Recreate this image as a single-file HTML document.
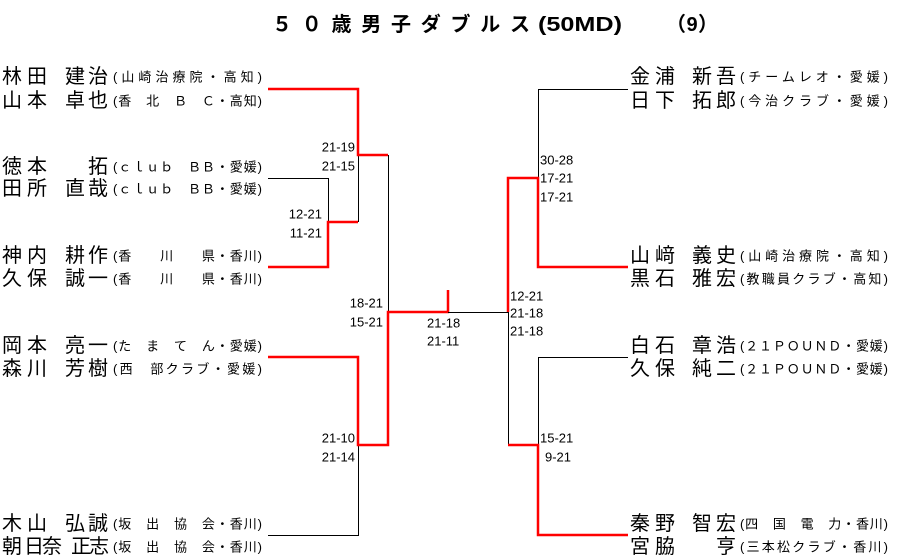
<!DOCTYPE html>
<html><head><meta charset="utf-8"><style>
html,body{margin:0;padding:0;background:#fff;}
svg{display:block;}
text{font-family:"Liberation Sans","Noto Sans CJK JP",sans-serif;fill:#000;}
.n{font-size:20px;}
.a{font-size:13px;}
.s{font-size:13px;}
.t{font-size:20px;font-weight:bold;}
.r{stroke:#f00;stroke-width:2.5;fill:none;}
.b{stroke:#000;stroke-width:1;fill:none;}
</style></head><body>
<svg width="897" height="558" viewBox="0 0 897 558" xmlns="http://www.w3.org/2000/svg">
<text class="t" x="272" y="31" textLength="258" lengthAdjust="spacing">５０歳男子ダブルス</text>
<text class="t" x="538" y="31" textLength="84" lengthAdjust="spacingAndGlyphs">(50MD)</text>
<text class="t" x="666" y="31" textLength="52" lengthAdjust="spacing">（9）</text>

<g class="n" dominant-baseline="central">
<text x="2 27 47 65 88" y="77">林田　建治</text>
<text x="2 27 47 65 88" y="101">山本　卓也</text>
<text x="2 27 47 65 88" y="167">徳本　　拓</text>
<text x="2 27 47 65 88" y="189">田所　直哉</text>
<text x="2 27 47 65 88" y="256">神内　耕作</text>
<text x="2 27 47 65 88" y="279">久保　誠一</text>
<text x="2 27 47 65 88" y="346">岡本　亮一</text>
<text x="2 27 47 65 88" y="369">森川　芳樹</text>
<text x="2 27 47 65 88" y="524">木山　弘誠</text>
<text x="2 24 42 71 89" y="547">朝日奈正志</text>
<text x="630 655 675 692 716" y="77">金浦　新吾</text>
<text x="630 655 675 692 716" y="101">日下　拓郎</text>
<text x="630 655 675 692 716" y="256">山﨑　義史</text>
<text x="630 655 675 692 716" y="279">黒石　雅宏</text>
<text x="630 655 675 692 716" y="346">白石　章浩</text>
<text x="630 655 675 692 716" y="369">久保　純二</text>
<text x="630 655 675 692 716" y="524">秦野　智宏</text>
<text x="630 655 675 692 716" y="547">宮脇　　亨</text>
</g>

<g class="a" dominant-baseline="central">
<text x="113" y="77" textLength="149" lengthAdjust="spacing">(山崎治療院・高知)</text>
<text x="113" y="101" textLength="149" lengthAdjust="spacing">(香　北　Ｂ　Ｃ・高知)</text>
<text x="113" y="167" textLength="149" lengthAdjust="spacing">(ｃｌｕｂ　ＢＢ・愛媛)</text>
<text x="113" y="189" textLength="149" lengthAdjust="spacing">(ｃｌｕｂ　ＢＢ・愛媛)</text>
<text x="113" y="256" textLength="149" lengthAdjust="spacing">(香　　川　　県・香川)</text>
<text x="113" y="279" textLength="149" lengthAdjust="spacing">(香　　川　　県・香川)</text>
<text x="113" y="346" textLength="149" lengthAdjust="spacing">(た　ま　て　ん・愛媛)</text>
<text x="113" y="369" textLength="149" lengthAdjust="spacing">(西　部クラブ・愛媛)</text>
<text x="113" y="524" textLength="149" lengthAdjust="spacing">(坂　出　協　会・香川)</text>
<text x="113" y="547" textLength="149" lengthAdjust="spacing">(坂　出　協　会・香川)</text>
<text x="740" y="77" textLength="148" lengthAdjust="spacing">(チームレオ・愛媛)</text>
<text x="740" y="101" textLength="148" lengthAdjust="spacing">(今治クラブ・愛媛)</text>
<text x="740" y="256" textLength="148" lengthAdjust="spacing">(山崎治療院・高知)</text>
<text x="740" y="279" textLength="148" lengthAdjust="spacing">(教職員クラブ・高知)</text>
<text x="740" y="346" textLength="148" lengthAdjust="spacing">(２１ＰＯＵＮＤ・愛媛)</text>
<text x="740" y="369" textLength="148" lengthAdjust="spacing">(２１ＰＯＵＮＤ・愛媛)</text>
<text x="740" y="524" textLength="148" lengthAdjust="spacing">(四　国　電　力・香川)</text>
<text x="740" y="547" textLength="148" lengthAdjust="spacing">(三本松クラブ・香川)</text>
</g>

<!-- left lines -->
<polyline class="b" points="268,178.5 328.5,178.5 328.5,222"/>
<line class="b" x1="358.5" y1="155" x2="358.5" y2="222"/>
<polyline class="b" points="268,535.5 358.5,535.5 358.5,445"/>
<line class="b" x1="388.5" y1="155" x2="388.5" y2="312"/>
<polyline class="r" points="268,89 358,89 358,155 388,155"/>
<polyline class="r" points="268,267 328,267 328,222 358,222"/>
<polyline class="r" points="268,357 358,357 358,445 388,445 388,312 448,312 448,290"/>
<!-- right lines -->
<line class="b" x1="448" y1="312.5" x2="508" y2="312.5"/>
<polyline class="b" points="628,89.5 538.5,89.5 538.5,178"/>
<polyline class="b" points="628,357.5 538.5,357.5 538.5,445"/>
<line class="b" x1="508.5" y1="312" x2="508.5" y2="445"/>
<polyline class="r" points="628,267 538,267 538,178 508,178 508,312"/>
<polyline class="r" points="628,535 538,535 538,445 508,445"/>

<g class="s" dominant-baseline="central">
<text x="355" y="147" text-anchor="end">21-19</text>
<text x="355" y="166" text-anchor="end">21-15</text>
<text x="322" y="214" text-anchor="end">12-21</text>
<text x="322" y="233" text-anchor="end">11-21</text>
<text x="383" y="303" text-anchor="end">18-21</text>
<text x="383" y="322" text-anchor="end">15-21</text>
<text x="355" y="438" text-anchor="end">21-10</text>
<text x="355" y="457" text-anchor="end">21-14</text>
<text x="427" y="323">21-18</text>
<text x="427" y="341">21-11</text>
<text x="540" y="160">30-28</text>
<text x="540" y="178">17-21</text>
<text x="540" y="197">17-21</text>
<text x="510" y="296">12-21</text>
<text x="510" y="313">21-18</text>
<text x="510" y="331">21-18</text>
<text x="540" y="438">15-21</text>
<text x="545" y="457">9-21</text>
</g>
</svg>
</body></html>
